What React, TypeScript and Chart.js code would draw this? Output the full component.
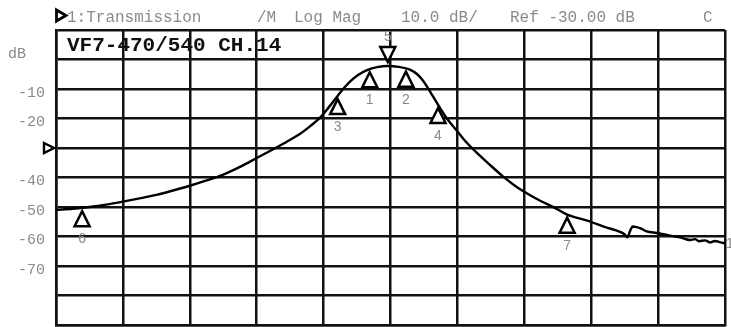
import React, { useEffect, useRef } from 'react';
import { Chart, registerables } from 'chart.js';

Chart.register(...registerables);

// ---- data (x in screen divisions 0..10, y in dB) ----
const traceX = [
  0.0, 0.25, 0.5, 0.75, 1.0, 1.25, 1.5, 1.75, 2.0, 2.25, 2.5, 2.75, 3.0, 3.24, 3.45, 3.65, 3.8, 3.95,
  4.07, 4.17, 4.27, 4.39, 4.52, 4.65, 4.8, 4.96, 5.12, 5.29, 5.4, 5.49, 5.56, 5.64, 5.75, 5.84, 5.99, 6.1,
  6.23, 6.49, 6.68, 6.85, 6.98, 7.23, 7.45, 7.64, 7.94, 8.21, 8.43, 8.5, 8.54, 8.58, 8.62, 8.68, 8.73,
  8.78, 8.83, 8.98, 9.1, 9.2, 9.33, 9.4, 9.48, 9.55, 9.62, 9.7, 9.78, 9.85, 9.93, 10.0,
];
const traceDb = [
  -51.0, -50.6, -50.0, -49.2, -48.2, -47.1, -45.9, -44.4, -42.8, -41.0, -39.0, -36.4, -33.4, -30.5, -27.9, -25.2, -22.6, -19.6,
  -16.4, -13.5, -10.6, -7.6, -5.2, -3.6, -2.6, -2.2, -2.5, -3.4, -5.0, -7.3, -9.7, -12.7, -16.8, -19.9, -24.1, -27.2,
  -30.3, -35.8, -39.6, -42.6, -44.6, -47.8, -50.2, -52.6, -54.6, -56.8, -58.4, -59.3, -60.3, -58.2, -56.6, -56.8, -57.2,
  -57.7, -58.3, -58.8, -59.3, -59.8, -60.3, -60.8, -61.2, -60.9, -61.6, -61.3, -62.0, -61.5, -62.0, -62.3,
];

const yTickValues = [10, 0, -10, -20, -30, -40, -50, -60, -70, -80, -90];
const yTickText = ['', '', '-10', '-20', '', '-40', '-50', '-60', '-70', '', ''];
const yUnitLabel = 'dB';
const refLevel = -30;

const markerNames = ['1', '2', '3', '4', '5', '6', '7'];
const markerX = [4.69, 5.23, 4.21, 5.71, 4.96, 0.39, 7.64];
const markerDb = [-3.3, -3.1, -12.4, -15.4, -2.2, -50.4, -52.6];
const markerPointsDown = [false, false, false, false, true, false, false];

const headerTexts = ['1:Transmission', '/M', 'Log Mag', '10.0 dB/', 'Ref -30.00 dB', 'C'];
const titleText = 'VF7-470/540 CH.14';
const traceName = '1';

// ---- layout / style ----
const W = 731;
const H = 327;
const HEADER_X = [67, 257, 294, 401, 510, 703];
const GRAY = '#8a8a8a';
const MONO = '"Liberation Mono", "DejaVu Sans Mono", monospace';

function tri(ctx: CanvasRenderingContext2D, pts: number[][]) {
  ctx.beginPath();
  ctx.moveTo(pts[0][0], pts[0][1]);
  ctx.lineTo(pts[1][0], pts[1][1]);
  ctx.lineTo(pts[2][0], pts[2][1]);
  ctx.closePath();
  ctx.fillStyle = '#fff';
  ctx.fill();
  ctx.stroke();
}

const overlayPlugin = {
  id: 'vnaOverlay',
  afterDraw(chart: any) {
    const ctx: CanvasRenderingContext2D = chart.ctx;
    const xs = chart.scales.x;
    const ys = chart.scales.y;
    const area = chart.chartArea;
    ctx.save();
    ctx.strokeStyle = '#000';
    ctx.lineJoin = 'miter';

    // header
    ctx.lineWidth = 2.8;
    tri(ctx, [[56.5, 10], [66, 15.5], [56.5, 21]]);
    ctx.fillStyle = GRAY;
    ctx.font = `16px ${MONO}`;
    ctx.textBaseline = 'middle';
    ctx.textAlign = 'left';
    headerTexts.forEach((t, i) => ctx.fillText(t, HEADER_X[i], 18));

    // title
    ctx.fillStyle = '#111';
    ctx.font = `bold 21px ${MONO}`;
    ctx.fillText(titleText, area.left + 11, ys.getPixelForValue(5) + 1);

    // unit label
    ctx.fillStyle = GRAY;
    ctx.font = `15px ${MONO}`;
    ctx.fillText(yUnitLabel, 8, ys.getPixelForValue(0) - 5);

    // reference marker
    const ry = ys.getPixelForValue(refLevel);
    ctx.lineWidth = 2.4;
    tri(ctx, [[44, ry - 5], [54, ry], [44, ry + 5]]);

    // markers
    ctx.font = `14px "Liberation Sans", sans-serif`;
    ctx.textAlign = 'center';
    markerNames.forEach((name, i) => {
      const px = xs.getPixelForValue(markerX[i]);
      const py = ys.getPixelForValue(markerDb[i]);
      ctx.lineWidth = 2.5;
      if (markerPointsDown[i]) {
        const apex = py - 4;
        tri(ctx, [[px - 7.5, apex - 15], [px + 7.5, apex - 15], [px, apex]]);
        ctx.fillStyle = GRAY;
        ctx.fillText(name, px, apex - 25);
      } else {
        const apex = py + 3;
        tri(ctx, [[px, apex], [px + 7.5, apex + 15], [px - 7.5, apex + 15]]);
        ctx.fillStyle = GRAY;
        ctx.fillText(name, px, apex + 28);
      }
    });

    // trace end label
    ctx.textAlign = 'left';
    ctx.fillStyle = GRAY;
    ctx.fillText(traceName, area.right + 1, ys.getPixelForValue(traceDb[traceDb.length - 1]) + 1);
    ctx.restore();
  },
};

export default function App() {
  const ref = useRef<HTMLCanvasElement | null>(null);

  useEffect(() => {
    document.body.style.margin = '0';
    const canvas = ref.current;
    if (!canvas) return;
    const chart = new Chart(canvas, {
      type: 'line',
      data: {
        datasets: [
          {
            label: 'Transmission',
            data: traceX.map((x, i) => ({ x, y: traceDb[i] })),
            borderColor: '#000',
            borderWidth: 2.4,
            pointRadius: 0,
            cubicInterpolationMode: 'monotone',
            fill: false,
          },
        ],
      },
      options: {
        animation: false,
        responsive: false,
        devicePixelRatio: 1,
        events: [],
        layout: { padding: { top: 30, right: 6, bottom: 2, left: 0 } },
        plugins: {
          legend: { display: false },
          tooltip: { enabled: false },
          title: { display: false },
        },
        scales: {
          x: {
            type: 'linear',
            min: 0,
            max: 10,
            ticks: { display: false, stepSize: 1 },
            grid: { color: '#111', lineWidth: 2.5, drawTicks: false },
            border: { display: true, color: '#111', width: 2.5 },
            afterFit: (s: any) => {
              s.height = 0;
              s.paddingLeft = 0;
              s.paddingRight = 0;
            },
          },
          y: {
            type: 'linear',
            min: -90,
            max: 10,
            ticks: {
              stepSize: 10,
              padding: 11,
              labelOffset: 4,
              color: GRAY,
              font: { family: MONO, size: 15 },
              callback: (v: any) => {
                const i = yTickValues.indexOf(Number(v));
                return i >= 0 ? yTickText[i] : '';
              },
            },
            grid: { color: '#111', lineWidth: 2.5, drawTicks: false },
            border: { display: true, color: '#111', width: 2.5 },
            afterFit: (s: any) => {
              s.width = 56;
              s.paddingTop = 0;
              s.paddingBottom = 0;
            },
          },
        },
      },
      plugins: [overlayPlugin],
    } as any);
    return () => chart.destroy();
  }, []);

  return (
    <div style={{ width: W, height: H, background: '#fff' }}>
      <canvas ref={ref} width={W} height={H} style={{ display: 'block' }} />
    </div>
  );
}
